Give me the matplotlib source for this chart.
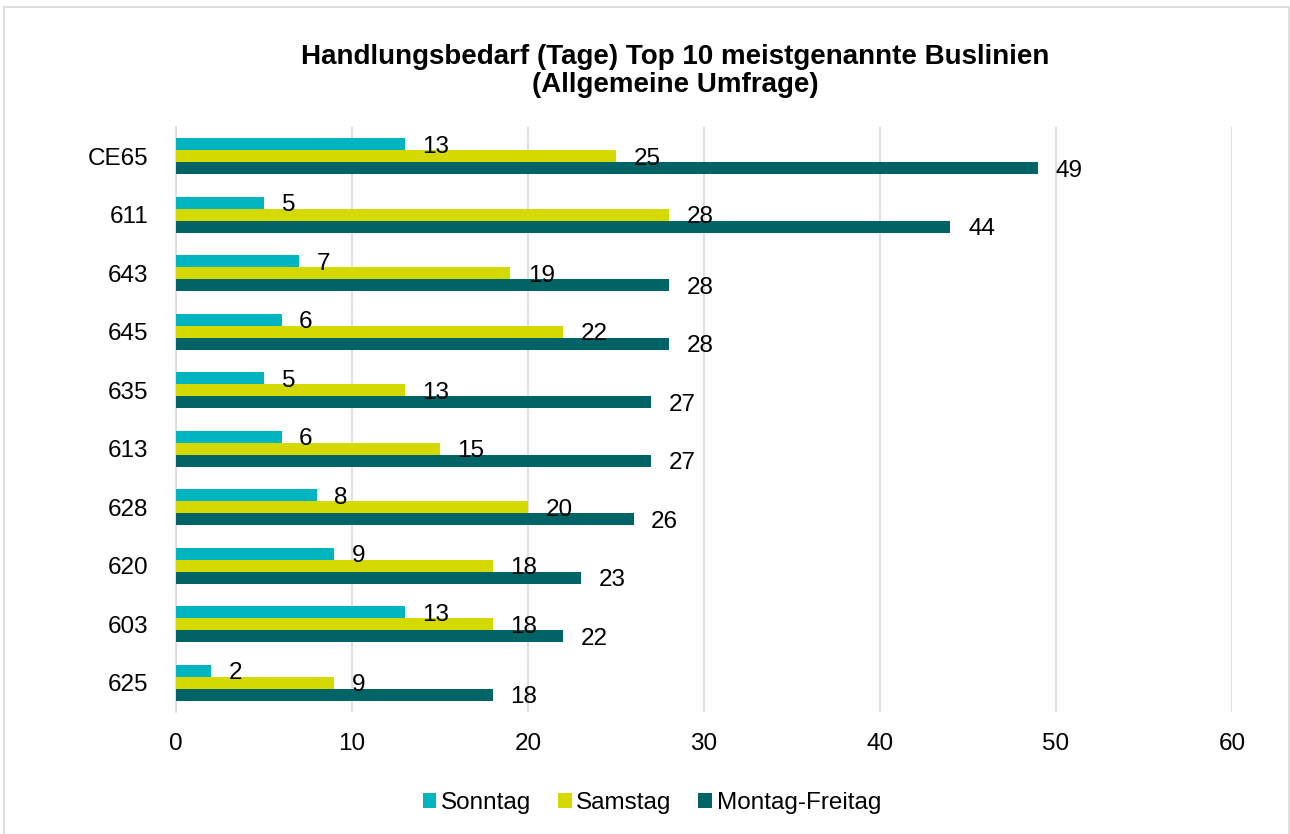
import numpy as np
import matplotlib.pyplot as plt
from matplotlib.patches import Rectangle

plt.rcParams['font.family'] = ['Liberation Sans', 'DejaVu Sans']

# Buslinien, von oben nach unten
lines = ["CE65", "611", "643", "645", "635", "613", "628", "620", "603", "625"]
sonntag = [13, 5, 7, 6, 5, 6, 8, 9, 13, 2]
samstag = [25, 28, 19, 22, 13, 15, 20, 18, 18, 9]
mo_fr = [49, 44, 28, 28, 27, 27, 26, 23, 22, 18]

series = [("Sonntag", sonntag, "#00B5BF"),
          ("Samstag", samstag, "#D4D900"),
          ("Montag-Freitag", mo_fr, "#006366")]

FS = 17.5

fig = plt.figure(figsize=(12.9, 8.34), dpi=100)
ax = fig.add_axes([176 / 1290, 1 - 712 / 834, (1232 - 176) / 1290, (712 - 127) / 834])

# Rahmen um das ganze Diagramm
fig.patches.append(Rectangle((4 / 1290, -0.01), 1284.5 / 1290, 1 - 7 / 834 + 0.01,
                             transform=fig.transFigure, fill=False,
                             edgecolor="#D9D9D9", linewidth=1.2))

y = np.arange(len(lines))
h = 0.205
for i, (name, vals, col) in enumerate(series):
    pos = y + (i - 1) * h
    ax.barh(pos, vals, height=h, color=col, label=name, zorder=3)
    for p, v in zip(pos, vals):
        ax.text(v + 1.0, p + 0.04, str(v), va="center", ha="left",
                fontsize=FS, color="black", zorder=4)

ax.set_xlim(0, 60)
ax.set_ylim(len(lines) - 0.5, -0.5)
ax.set_yticks(y)
ax.set_yticklabels(lines, fontsize=FS)
ax.set_xticks(range(0, 61, 10))
ax.tick_params(axis="both", length=0, labelsize=FS)
ax.tick_params(axis="y", pad=20)
ax.tick_params(axis="x", pad=15)
ax.grid(axis="x", color="#D9D9D9", linewidth=1.2, zorder=0)
for s in ["top", "right", "bottom"]:
    ax.spines[s].set_visible(False)
ax.spines["left"].set_color("#D9D9D9")
ax.spines["left"].set_linewidth(1.2)

fig.text(675 / 1290, 1 - 71 / 834,
         "Handlungsbedarf (Tage) Top 10 meistgenannte Buslinien\n(Allgemeine Umfrage)",
         ha="center", va="center", fontsize=20, fontweight="bold", linespacing=1.1)

fig.legend(loc="center", bbox_to_anchor=(652 / 1290, 1 - 803 / 834), ncol=3,
           frameon=False, fontsize=FS, handlelength=0.55, handleheight=0.55,
           handletextpad=0.2, columnspacing=1.1)

fig.savefig("out.png", dpi=100)
